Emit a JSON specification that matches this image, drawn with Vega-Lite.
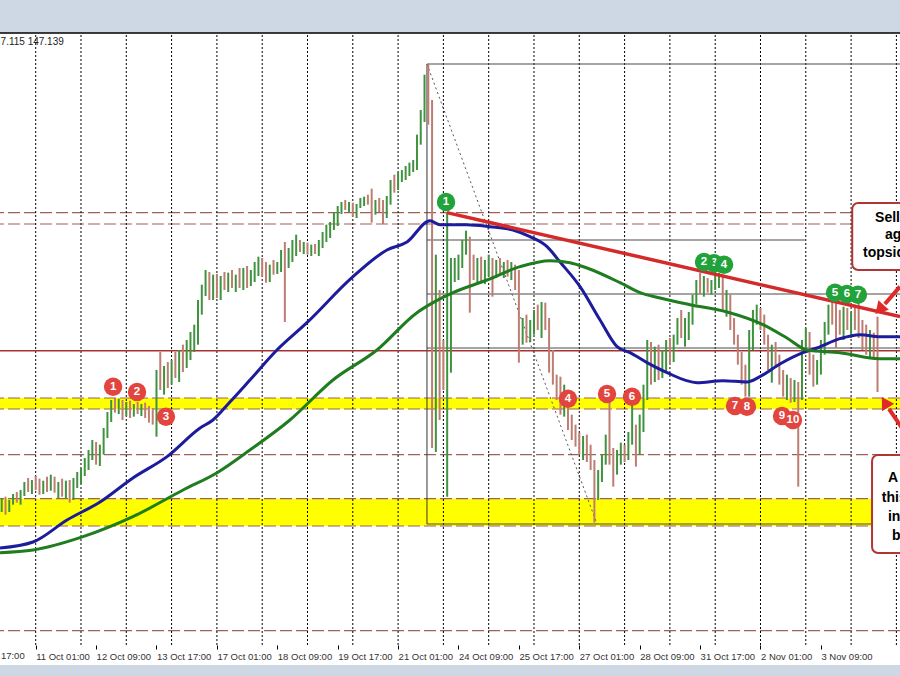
{
  "$schema": "https://vega.github.io/schema/vega-lite/v6.json",
  "width": 900,
  "height": 632,
  "autosize": {"type": "none"},
  "padding": {"left": 0, "right": 0, "top": 33, "bottom": 11},
  "background": "#cdd8e4",
  "config": {"view": {"fill": "white", "stroke": null}, "font": "Liberation Sans"},
  "datasets": {
    "candles": [
      {"k":-18,"o":145.33,"h":145.43,"l":145.22,"c":145.40},{"k":-16,"o":145.40,"h":145.45,"l":145.18,"c":145.30},{"k":-14,"o":145.30,"h":145.40,"l":145.22,"c":145.37},{"k":-12,"o":145.37,"h":145.49,"l":145.33,"c":145.45},{"k":-10,"o":145.45,"h":145.52,"l":145.36,"c":145.40},{"k":-8,"o":145.40,"h":145.55,"l":145.33,"c":145.51},{"k":-6,"o":145.51,"h":145.67,"l":145.46,"c":145.63},{"k":-4,"o":145.63,"h":145.73,"l":145.52,"c":145.58},{"k":-2,"o":145.58,"h":145.70,"l":145.49,"c":145.67},
      {"k":0,"o":145.67,"h":145.76,"l":145.55,"c":145.61},{"k":2,"o":145.61,"h":145.72,"l":145.48,"c":145.55},{"k":4,"o":145.55,"h":145.69,"l":145.49,"c":145.64},{"k":6,"o":145.64,"h":145.75,"l":145.52,"c":145.58},{"k":8,"o":145.58,"h":145.78,"l":145.54,"c":145.70},{"k":10,"o":145.70,"h":145.75,"l":145.51,"c":145.55},{"k":12,"o":145.55,"h":145.67,"l":145.43,"c":145.61},{"k":14,"o":145.61,"h":145.72,"l":145.45,"c":145.51},{"k":16,"o":145.51,"h":145.69,"l":145.42,"c":145.64},{"k":18,"o":145.64,"h":145.70,"l":145.36,"c":145.48},
      {"k":20,"o":145.48,"h":145.73,"l":145.40,"c":145.67},{"k":22,"o":145.67,"h":145.82,"l":145.58,"c":145.76},{"k":24,"o":145.76,"h":145.88,"l":145.64,"c":145.85},{"k":26,"o":145.85,"h":146.03,"l":145.76,"c":145.97},{"k":28,"o":145.97,"h":146.15,"l":145.85,"c":146.08},{"k":30,"o":146.08,"h":146.30,"l":146.00,"c":146.21},{"k":32,"o":146.21,"h":146.27,"l":145.93,"c":146.00},{"k":34,"o":146.00,"h":146.23,"l":145.91,"c":146.15},{"k":36,"o":146.15,"h":146.48,"l":146.08,"c":146.42},{"k":38,"o":146.42,"h":146.72,"l":146.33,"c":146.68},
      {"k":40,"o":146.68,"h":146.90,"l":146.57,"c":146.83},{"k":42,"o":146.83,"h":146.93,"l":146.71,"c":146.78},{"k":44,"o":146.78,"h":146.92,"l":146.69,"c":146.84},{"k":46,"o":146.84,"h":146.90,"l":146.60,"c":146.75},{"k":48,"o":146.75,"h":146.87,"l":146.66,"c":146.81},{"k":50,"o":146.81,"h":146.89,"l":146.63,"c":146.72},{"k":52,"o":146.72,"h":146.84,"l":146.65,"c":146.78},{"k":54,"o":146.78,"h":146.87,"l":146.69,"c":146.75},{"k":56,"o":146.75,"h":146.84,"l":146.66,"c":146.80},{"k":58,"o":146.80,"h":146.86,"l":146.63,"c":146.69},
      {"k":60,"o":146.69,"h":146.81,"l":146.56,"c":146.63},{"k":62,"o":146.63,"h":146.78,"l":146.53,"c":146.60},{"k":64,"o":146.60,"h":147.35,"l":146.35,"c":147.23},{"k":66,"o":147.23,"h":147.62,"l":147.05,"c":147.20},{"k":68,"o":147.20,"h":147.41,"l":146.98,"c":147.32},{"k":70,"o":147.32,"h":147.47,"l":147.08,"c":147.23},{"k":72,"o":147.23,"h":147.50,"l":147.13,"c":147.43},{"k":74,"o":147.43,"h":147.62,"l":147.23,"c":147.35},{"k":76,"o":147.35,"h":147.65,"l":147.17,"c":147.53},{"k":78,"o":147.53,"h":147.73,"l":147.32,"c":147.47},
      {"k":80,"o":147.47,"h":147.80,"l":147.38,"c":147.68},{"k":82,"o":147.68,"h":147.92,"l":147.50,"c":147.80},{"k":84,"o":147.80,"h":148.03,"l":147.62,"c":147.88},{"k":86,"o":147.88,"h":148.40,"l":147.73,"c":148.33},{"k":88,"o":148.33,"h":148.63,"l":148.18,"c":148.55},{"k":90,"o":148.55,"h":148.85,"l":148.46,"c":148.76},{"k":92,"o":148.76,"h":148.82,"l":148.40,"c":148.52},{"k":94,"o":148.52,"h":148.78,"l":148.40,"c":148.67},{"k":96,"o":148.67,"h":148.79,"l":148.43,"c":148.55},{"k":98,"o":148.55,"h":148.76,"l":148.40,"c":148.70},
      {"k":100,"o":148.70,"h":148.82,"l":148.55,"c":148.64},{"k":102,"o":148.64,"h":148.81,"l":148.52,"c":148.73},{"k":104,"o":148.73,"h":148.85,"l":148.58,"c":148.61},{"k":106,"o":148.61,"h":148.78,"l":148.52,"c":148.70},{"k":108,"o":148.70,"h":148.88,"l":148.58,"c":148.64},{"k":110,"o":148.64,"h":148.88,"l":148.55,"c":148.79},{"k":112,"o":148.79,"h":148.91,"l":148.58,"c":148.70},{"k":114,"o":148.70,"h":148.85,"l":148.61,"c":148.76},{"k":116,"o":148.76,"h":148.97,"l":148.67,"c":148.91},{"k":118,"o":148.91,"h":149.05,"l":148.76,"c":148.97},
      {"k":120,"o":148.97,"h":149.03,"l":148.75,"c":148.85},{"k":122,"o":148.85,"h":148.97,"l":148.66,"c":148.76},{"k":124,"o":148.76,"h":148.93,"l":148.67,"c":148.88},{"k":126,"o":148.88,"h":149.00,"l":148.78,"c":148.85},{"k":128,"o":148.85,"h":148.97,"l":148.79,"c":148.93},{"k":130,"o":148.93,"h":149.15,"l":148.82,"c":149.08},{"k":132,"o":149.08,"h":149.27,"l":148.07,"c":148.97},{"k":134,"o":148.97,"h":149.18,"l":148.88,"c":149.08},{"k":136,"o":149.08,"h":149.30,"l":148.97,"c":149.15},{"k":138,"o":149.15,"h":149.38,"l":149.06,"c":149.21},
      {"k":140,"o":149.21,"h":149.30,"l":149.12,"c":149.15},{"k":142,"o":149.15,"h":149.27,"l":149.09,"c":149.21},{"k":144,"o":149.21,"h":149.26,"l":149.08,"c":149.12},{"k":146,"o":149.12,"h":149.23,"l":149.06,"c":149.18},{"k":148,"o":149.18,"h":149.24,"l":149.09,"c":149.12},{"k":150,"o":149.12,"h":149.30,"l":149.06,"c":149.27},{"k":152,"o":149.27,"h":149.42,"l":149.18,"c":149.36},{"k":154,"o":149.36,"h":149.53,"l":149.27,"c":149.45},{"k":156,"o":149.45,"h":149.57,"l":149.33,"c":149.51},{"k":158,"o":149.51,"h":149.72,"l":149.45,"c":149.66},
      {"k":160,"o":149.66,"h":149.81,"l":149.51,"c":149.75},{"k":162,"o":149.75,"h":149.87,"l":149.69,"c":149.83},{"k":164,"o":149.83,"h":149.90,"l":149.75,"c":149.78},{"k":166,"o":149.78,"h":149.87,"l":149.72,"c":149.81},{"k":168,"o":149.81,"h":149.86,"l":149.65,"c":149.69},{"k":170,"o":149.69,"h":149.84,"l":149.63,"c":149.81},{"k":172,"o":149.81,"h":149.93,"l":149.78,"c":149.87},{"k":174,"o":149.87,"h":149.95,"l":149.81,"c":149.90},{"k":176,"o":149.90,"h":149.98,"l":149.83,"c":149.86},{"k":178,"o":149.86,"h":150.07,"l":149.56,"c":149.78},
      {"k":180,"o":149.78,"h":149.90,"l":149.68,"c":149.84},{"k":182,"o":149.84,"h":149.93,"l":149.72,"c":149.75},{"k":184,"o":149.75,"h":149.90,"l":149.54,"c":149.72},{"k":186,"o":149.72,"h":149.96,"l":149.63,"c":149.90},{"k":188,"o":149.90,"h":150.20,"l":149.83,"c":150.14},{"k":190,"o":150.14,"h":150.28,"l":150.01,"c":150.13},{"k":192,"o":150.13,"h":150.32,"l":150.05,"c":150.23},{"k":194,"o":150.23,"h":150.35,"l":150.17,"c":150.29},{"k":196,"o":150.29,"h":150.41,"l":150.20,"c":150.35},{"k":198,"o":150.35,"h":150.46,"l":150.26,"c":150.41},
      {"k":200,"o":150.41,"h":150.50,"l":150.32,"c":150.43},{"k":202,"o":150.43,"h":150.88,"l":150.35,"c":150.80},{"k":204,"o":150.80,"h":151.25,"l":150.73,"c":151.18},{"k":206,"o":151.18,"h":151.78,"l":151.07,"c":151.70},{"k":208,"o":151.70,"h":151.94,"l":151.03,"c":151.10},{"k":210,"o":151.10,"h":151.40,"l":146.18,"c":147.95},{"k":212,"o":147.95,"h":149.08,"l":146.12,"c":148.40},{"k":214,"o":148.40,"h":148.55,"l":146.60,"c":147.65},{"k":216,"o":147.65,"h":147.80,"l":147.05,"c":147.58},{"k":218,"o":147.58,"h":149.71,"l":145.45,"c":148.40},
      {"k":220,"o":148.40,"h":149.03,"l":147.31,"c":148.78},{"k":222,"o":148.78,"h":149.03,"l":148.67,"c":148.88},{"k":224,"o":148.88,"h":149.08,"l":148.70,"c":148.97},{"k":226,"o":148.97,"h":149.30,"l":148.88,"c":149.23},{"k":228,"o":149.23,"h":149.44,"l":149.08,"c":149.30},{"k":230,"o":149.30,"h":149.35,"l":148.21,"c":148.97},{"k":232,"o":148.97,"h":149.08,"l":148.70,"c":148.82},{"k":234,"o":148.82,"h":149.03,"l":148.66,"c":148.93},{"k":236,"o":148.93,"h":149.05,"l":148.67,"c":148.76},{"k":238,"o":148.76,"h":149.00,"l":148.64,"c":148.88},
      {"k":240,"o":148.88,"h":149.08,"l":148.75,"c":148.97},{"k":242,"o":148.97,"h":149.03,"l":148.45,"c":148.85},{"k":244,"o":148.85,"h":149.00,"l":148.73,"c":148.93},{"k":246,"o":148.93,"h":149.03,"l":148.76,"c":148.85},{"k":248,"o":148.85,"h":148.97,"l":148.73,"c":148.91},{"k":250,"o":148.91,"h":149.00,"l":148.75,"c":148.82},{"k":252,"o":148.82,"h":148.97,"l":148.70,"c":148.88},{"k":254,"o":148.88,"h":148.93,"l":148.55,"c":148.63},{"k":256,"o":148.63,"h":148.85,"l":147.46,"c":147.95},{"k":258,"o":147.95,"h":148.13,"l":147.73,"c":148.03},
      {"k":260,"o":148.03,"h":148.18,"l":147.76,"c":147.88},{"k":262,"o":147.88,"h":148.10,"l":147.77,"c":148.07},{"k":264,"o":148.07,"h":148.25,"l":147.88,"c":148.18},{"k":266,"o":148.18,"h":148.33,"l":147.95,"c":148.10},{"k":268,"o":148.10,"h":148.37,"l":147.83,"c":148.25},{"k":270,"o":148.25,"h":148.36,"l":147.95,"c":148.03},{"k":272,"o":148.03,"h":148.13,"l":147.31,"c":147.43},{"k":274,"o":147.43,"h":147.65,"l":147.13,"c":147.23},{"k":276,"o":147.23,"h":147.28,"l":146.90,"c":147.02},{"k":278,"o":147.02,"h":147.25,"l":146.68,"c":146.83},
      {"k":280,"o":146.83,"h":147.13,"l":146.65,"c":146.98},{"k":282,"o":146.98,"h":147.02,"l":146.45,"c":146.53},{"k":284,"o":146.53,"h":146.68,"l":146.30,"c":146.38},{"k":286,"o":146.38,"h":146.53,"l":146.20,"c":146.30},{"k":288,"o":146.30,"h":146.41,"l":146.08,"c":146.18},{"k":290,"o":146.18,"h":146.36,"l":146.00,"c":146.27},{"k":292,"o":146.27,"h":146.38,"l":145.97,"c":146.08},{"k":294,"o":146.08,"h":146.23,"l":145.85,"c":145.93},{"k":296,"o":145.93,"h":146.00,"l":145.06,"c":145.48},{"k":298,"o":145.48,"h":145.85,"l":145.40,"c":145.78},
      {"k":300,"o":145.78,"h":146.08,"l":145.67,"c":146.00},{"k":302,"o":146.00,"h":146.38,"l":145.93,"c":146.30},{"k":304,"o":146.30,"h":146.93,"l":145.93,"c":146.08},{"k":306,"o":146.08,"h":146.18,"l":145.60,"c":145.85},{"k":308,"o":145.85,"h":146.15,"l":145.78,"c":146.08},{"k":310,"o":146.08,"h":146.26,"l":145.93,"c":146.15},{"k":312,"o":146.15,"h":146.23,"l":145.97,"c":146.08},{"k":314,"o":146.08,"h":146.42,"l":146.00,"c":146.33},{"k":316,"o":146.33,"h":146.83,"l":146.23,"c":146.45},{"k":318,"o":146.45,"h":146.53,"l":145.90,"c":146.15},
      {"k":320,"o":146.15,"h":146.68,"l":146.08,"c":146.60},{"k":322,"o":146.60,"h":147.13,"l":146.42,"c":147.02},{"k":324,"o":147.02,"h":147.80,"l":146.90,"c":147.65},{"k":326,"o":147.65,"h":147.77,"l":147.13,"c":147.28},{"k":328,"o":147.28,"h":147.70,"l":147.17,"c":147.62},{"k":330,"o":147.62,"h":147.73,"l":147.20,"c":147.32},{"k":332,"o":147.32,"h":147.65,"l":147.23,"c":147.53},{"k":334,"o":147.53,"h":147.80,"l":147.32,"c":147.73},{"k":336,"o":147.73,"h":147.83,"l":147.43,"c":147.50},{"k":338,"o":147.50,"h":147.88,"l":147.47,"c":147.80},
      {"k":340,"o":147.80,"h":148.13,"l":147.73,"c":148.07},{"k":342,"o":148.07,"h":148.25,"l":147.83,"c":147.95},{"k":344,"o":147.95,"h":148.13,"l":147.70,"c":148.03},{"k":346,"o":148.03,"h":148.22,"l":147.80,"c":148.13},{"k":348,"o":148.13,"h":148.48,"l":148.03,"c":148.40},{"k":350,"o":148.40,"h":148.70,"l":148.33,"c":148.63},{"k":352,"o":148.63,"h":148.81,"l":148.48,"c":148.55},{"k":354,"o":148.55,"h":148.76,"l":148.45,"c":148.67},{"k":356,"o":148.67,"h":148.73,"l":148.51,"c":148.55},{"k":358,"o":148.55,"h":148.70,"l":148.48,"c":148.64},
      {"k":360,"o":148.64,"h":148.79,"l":148.55,"c":148.70},{"k":362,"o":148.70,"h":148.81,"l":148.58,"c":148.73},{"k":364,"o":148.73,"h":148.78,"l":148.25,"c":148.33},{"k":366,"o":148.33,"h":148.55,"l":148.15,"c":148.43},{"k":368,"o":148.43,"h":148.48,"l":147.95,"c":148.03},{"k":370,"o":148.03,"h":148.13,"l":147.73,"c":147.80},{"k":372,"o":147.80,"h":147.88,"l":147.43,"c":147.53},{"k":374,"o":147.53,"h":147.62,"l":147.13,"c":147.23},{"k":376,"o":147.23,"h":147.43,"l":146.95,"c":147.13},{"k":378,"o":147.13,"h":147.95,"l":146.95,"c":147.80},
      {"k":380,"o":147.80,"h":148.25,"l":147.65,"c":148.13},{"k":382,"o":148.13,"h":148.33,"l":148.03,"c":148.22},{"k":384,"o":148.22,"h":148.28,"l":147.95,"c":148.03},{"k":386,"o":148.03,"h":148.18,"l":147.73,"c":147.80},{"k":388,"o":147.80,"h":147.88,"l":147.35,"c":147.47},{"k":390,"o":147.47,"h":147.73,"l":147.16,"c":147.65},{"k":392,"o":147.65,"h":147.77,"l":147.38,"c":147.47},{"k":394,"o":147.47,"h":147.58,"l":147.13,"c":147.23},{"k":396,"o":147.23,"h":147.35,"l":146.95,"c":147.05},{"k":398,"o":147.05,"h":147.28,"l":146.90,"c":147.13},
      {"k":400,"o":147.13,"h":147.23,"l":146.86,"c":146.98},{"k":402,"o":146.98,"h":147.20,"l":146.87,"c":147.08},{"k":404,"o":147.08,"h":147.17,"l":145.60,"c":146.93},{"k":406,"o":146.93,"h":147.80,"l":146.90,"c":147.73},{"k":408,"o":147.73,"h":147.98,"l":147.62,"c":147.88},{"k":410,"o":147.88,"h":147.92,"l":147.28,"c":147.43},{"k":412,"o":147.43,"h":147.58,"l":147.10,"c":147.23},{"k":414,"o":147.23,"h":147.50,"l":147.13,"c":147.35},{"k":416,"o":147.35,"h":147.80,"l":147.28,"c":147.73},{"k":418,"o":147.73,"h":148.07,"l":147.58,"c":147.98},
      {"k":420,"o":147.98,"h":148.33,"l":147.88,"c":148.25},{"k":422,"o":148.25,"h":148.40,"l":148.03,"c":148.18},{"k":424,"o":148.18,"h":148.37,"l":147.68,"c":148.10},{"k":426,"o":148.10,"h":148.25,"l":147.88,"c":147.98},{"k":428,"o":147.98,"h":148.30,"l":147.80,"c":148.18},{"k":430,"o":148.18,"h":148.28,"l":147.95,"c":148.07},{"k":432,"o":148.07,"h":148.22,"l":147.83,"c":148.13},{"k":434,"o":148.13,"h":148.33,"l":147.95,"c":148.03},{"k":436,"o":148.03,"h":148.36,"l":147.83,"c":147.92},{"k":438,"o":147.92,"h":148.10,"l":147.65,"c":147.80},
      {"k":440,"o":147.80,"h":148.03,"l":147.58,"c":147.73},{"k":442,"o":147.73,"h":147.95,"l":147.53,"c":147.83},{"k":444,"o":147.83,"h":147.91,"l":147.50,"c":147.65},{"k":446,"o":147.65,"h":148.15,"l":147.02,"c":147.14}
    ],
    "ma": [
      {"m":"MA100","k":-18.9,"p":144.68},{"m":"MA100","k":-1.4,"p":144.77},{"m":"MA100","k":16.6,"p":145.10},{"m":"MA100","k":34.1,"p":145.37},{"m":"MA100","k":51.5,"p":145.73},{"m":"MA100","k":69.6,"p":146.05},{"m":"MA100","k":87.1,"p":146.48},{"m":"MA100","k":93.9,"p":146.60},{"m":"MA100","k":102.9,"p":146.87},{"m":"MA100","k":113.5,"p":147.20},{"m":"MA100","k":127.8,"p":147.65},{"m":"MA100","k":143.7,"p":148.06},{"m":"MA100","k":168.1,"p":148.75},{"m":"MA100","k":186.1,"p":149.15},{"m":"MA100","k":196.7,"p":149.27},{"m":"MA100","k":208.9,"p":149.59},{"m":"MA100","k":214.2,"p":149.53},{"m":"MA100","k":228.5,"p":149.53},{"m":"MA100","k":240.7,"p":149.50},{"m":"MA100","k":252.9,"p":149.45},{"m":"MA100","k":261.9,"p":149.35},{"m":"MA100","k":270.9,"p":149.20},{"m":"MA100","k":277.8,"p":148.97},{"m":"MA100","k":288.4,"p":148.60},{"m":"MA100","k":299,"p":148.10},{"m":"MA100","k":308,"p":147.70},{"m":"MA100","k":314.9,"p":147.61},{"m":"MA100","k":323.9,"p":147.46},{"m":"MA100","k":334.5,"p":147.31},{"m":"MA100","k":350.4,"p":147.16},{"m":"MA100","k":364.1,"p":147.19},{"m":"MA100","k":376.9,"p":147.17},{"m":"MA100","k":383.7,"p":147.25},{"m":"MA100","k":394.3,"p":147.44},{"m":"MA100","k":406.5,"p":147.61},{"m":"MA100","k":413.9,"p":147.68},{"m":"MA100","k":426.1,"p":147.82},{"m":"MA100","k":436.7,"p":147.88},{"m":"MA100","k":447.3,"p":147.85},{"m":"MA100","k":457.9,"p":147.85},
      {"m":"MA200","k":-18.9,"p":144.61},{"m":"MA200","k":-1.4,"p":144.65},{"m":"MA200","k":25.1,"p":144.85},{"m":"MA200","k":51.5,"p":145.15},{"m":"MA200","k":78.1,"p":145.55},{"m":"MA200","k":96.1,"p":145.81},{"m":"MA200","k":113.5,"p":146.15},{"m":"MA200","k":134.7,"p":146.60},{"m":"MA200","k":157.5,"p":147.20},{"m":"MA200","k":180.8,"p":147.65},{"m":"MA200","k":202,"p":148.21},{"m":"MA200","k":210.5,"p":148.36},{"m":"MA200","k":221.1,"p":148.51},{"m":"MA200","k":239.1,"p":148.70},{"m":"MA200","k":256.6,"p":148.90},{"m":"MA200","k":272.5,"p":148.99},{"m":"MA200","k":283.1,"p":148.96},{"m":"MA200","k":292.1,"p":148.88},{"m":"MA200","k":309.6,"p":148.66},{"m":"MA200","k":320.2,"p":148.51},{"m":"MA200","k":330.8,"p":148.43},{"m":"MA200","k":346.6,"p":148.33},{"m":"MA200","k":366.3,"p":148.22},{"m":"MA200","k":385.3,"p":148.03},{"m":"MA200","k":398,"p":147.83},{"m":"MA200","k":408.6,"p":147.65},{"m":"MA200","k":426.1,"p":147.61},{"m":"MA200","k":447.3,"p":147.52},{"m":"MA200","k":457.9,"p":147.52}
    ],
    "grid": [{"k":0},{"k":24},{"k":48},{"k":72},{"k":96},{"k":120},{"k":144},{"k":168},{"k":192},{"k":216},{"k":240},{"k":264},{"k":288},{"k":312},{"k":336},{"k":360},{"k":384},{"k":408},{"k":432},{"k":456}],
    "dashed": [{"p":149.71},{"p":149.54},{"p":146.93},{"p":146.765},{"p":146.08},{"p":145.42},{"p":145.01},{"p":143.44}],
    "bands": [{"p":145.01,"p2":145.42},{"p":146.765,"p2":146.93}],
    "fib": [{"k":207.3,"p":151.94,"k2":457.91},{"k":207.3,"p":149.30,"k2":407.5},{"k":207.3,"p":148.49,"k2":457.91},{"k":207.3,"p":147.68,"k2":457.91},{"k":207.3,"p":145.04,"k2":457.91}],
    "circles": [
      {"side":"support","n":"1","k":41.0,"p":147.10},{"side":"support","n":"2","k":53.7,"p":147.02},{"side":"support","n":"3","k":69.0,"p":146.65},{"side":"support","n":"4","k":282.0,"p":146.92},{"side":"support","n":"5","k":302.7,"p":146.99},{"side":"support","n":"6","k":315.9,"p":146.95},{"side":"support","n":"7","k":370.5,"p":146.81},{"side":"support","n":"8","k":376.8,"p":146.80},{"side":"support","n":"9","k":395.4,"p":146.66},{"side":"support","n":"10","k":401.2,"p":146.60},
      {"side":"resistance","n":"1","k":217.4,"p":149.87},{"side":"resistance","n":"3","k":359.4,"p":148.95},{"side":"resistance","n":"2","k":354.1,"p":148.97},{"side":"resistance","n":"4","k":364.7,"p":148.93},{"side":"resistance","n":"5","k":423.5,"p":148.51},{"side":"resistance","n":"6","k":429.8,"p":148.49},{"side":"resistance","n":"7","k":435.6,"p":148.48}
    ],
    "boxes": [{"k":432.6,"k2":500,"p":148.85,"p2":149.855},{"k":443.1,"k2":500,"p":144.605,"p2":146.075}],
    "notes": [
      {"t":"Sellers leaned","k":444.7,"p":149.63},{"t":"against the","k":450.0,"p":149.38},{"t":"topside trend line","k":438.3,"p":149.11},
      {"t":"A move below","k":451.5,"p":145.73},{"t":"this area would","k":448.3,"p":145.43},{"t":"increase the","k":451.5,"p":145.15},{"t":"bearish bias","k":453.7,"p":144.86}
    ],
    "arrows": [{"k":457.9,"p":148.6,"k2":449.9,"p2":148.34},{"k":460.5,"p":146.42,"k2":452.1,"p2":146.765}]
  },
  "layer": [
    {
      "data": {"name": "bands"},
      "mark": {"type": "rect", "color": "#ffff00"},
      "encoding": {
        "y": {"field": "p", "type": "quantitative", "scale": {"domain": [142.925, 152.405], "nice": false, "zero": false}, "axis": null},
        "y2": {"field": "p2"}
      }
    },
    {
      "data": {"name": "dashed"},
      "mark": {"type": "rule", "color": "#a0605a", "strokeWidth": 1.2, "strokeDash": [12, 4]},
      "encoding": {
        "y": {"field": "p", "type": "quantitative", "scale": {"domain": [142.925, 152.405], "nice": false, "zero": false}, "axis": null}
      }
    },
    {
      "data": {"name": "grid"},
      "mark": {"type": "rule", "color": "#000000", "strokeWidth": 1, "strokeDash": [2, 2]},
      "encoding": {
        "x": {"field": "k", "type": "quantitative", "scale": {"domain": [-18.91, 457.91], "nice": false, "zero": false}},
        "y": {"datum": 143.225, "type": "quantitative", "scale": {"domain": [142.925, 152.405], "nice": false, "zero": false}, "axis": null},
        "y2": {"datum": 152.405}
      }
    },
    {
      "data": {"name": "fib"},
      "mark": {"type": "rule", "color": "#4a4a4a", "strokeWidth": 1},
      "encoding": {
        "x": {"field": "k", "type": "quantitative", "scale": {"domain": [-18.91, 457.91], "nice": false, "zero": false}},
        "x2": {"field": "k2"},
        "y": {"field": "p", "type": "quantitative", "scale": {"domain": [142.925, 152.405], "nice": false, "zero": false}, "axis": null}
      }
    },
    {
      "data": {"values": [{"k": 207.3, "p": 151.94, "p2": 145.04}]},
      "mark": {"type": "rule", "color": "#333333", "strokeWidth": 1},
      "encoding": {
        "x": {"field": "k", "type": "quantitative", "scale": {"domain": [-18.91, 457.91], "nice": false, "zero": false}},
        "y": {"field": "p", "type": "quantitative", "scale": {"domain": [142.925, 152.405], "nice": false, "zero": false}, "axis": null},
        "y2": {"field": "p2"}
      }
    },
    {
      "data": {"values": [{"k": 207.3, "p": 151.94, "k2": 297.4, "p2": 145.04}]},
      "mark": {"type": "rule", "color": "#555555", "strokeWidth": 1, "strokeDash": [2, 3]},
      "encoding": {
        "x": {"field": "k", "type": "quantitative", "scale": {"domain": [-18.91, 457.91], "nice": false, "zero": false}},
        "x2": {"field": "k2"},
        "y": {"field": "p", "type": "quantitative", "scale": {"domain": [142.925, 152.405], "nice": false, "zero": false}, "axis": null},
        "y2": {"field": "p2"}
      }
    },
    {
      "data": {"values": [{"p": 147.64}]},
      "mark": {"type": "rule", "color": "#a83232", "strokeWidth": 1.5},
      "encoding": {
        "y": {"field": "p", "type": "quantitative", "scale": {"domain": [142.925, 152.405], "nice": false, "zero": false}, "axis": null}
      }
    },
    {
      "data": {"values": [{"p": 152.405}]},
      "mark": {"type": "rule", "color": "#000000", "strokeWidth": 1.5},
      "encoding": {
        "y": {"field": "p", "type": "quantitative", "scale": {"domain": [142.925, 152.405], "nice": false, "zero": false}, "axis": null}
      }
    },
    {
      "data": {"name": "candles"},
      "mark": {"type": "rule", "strokeWidth": 2},
      "encoding": {
        "x": {
          "field": "k", "type": "quantitative",
          "scale": {"domain": [-18.91, 457.91], "nice": false, "zero": false},
          "axis": {
            "orient": "bottom", "offset": -20, "title": null, "grid": false, "domain": false,
            "values": [-32, 0, 32, 64, 96, 128, 160, 192, 224, 256, 288, 320, 352, 384, 416],
            "labelExpr": "['10 Oct 17:00','11 Oct 01:00','12 Oct 09:00','13 Oct 17:00','17 Oct 01:00','18 Oct 09:00','19 Oct 17:00','21 Oct 01:00','24 Oct 09:00','25 Oct 17:00','27 Oct 01:00','28 Oct 09:00','31 Oct 17:00','2 Nov 01:00','3 Nov 09:00'][round((datum.value + 32) / 32)]",
            "ticks": true, "tickSize": 4, "tickColor": "#000000", "tickWidth": 1,
            "labelAlign": "left", "labelBaseline": "top", "labelPadding": 2,
            "labelFont": "Liberation Sans", "labelFontSize": 9.5, "labelColor": "#333333",
            "labelOverlap": false, "labelBound": false, "labelFlush": false
          }
        },
        "y": {"field": "l", "type": "quantitative", "scale": {"domain": [142.925, 152.405], "nice": false, "zero": false}, "axis": null},
        "y2": {"field": "h"},
        "color": {"condition": {"test": "datum.c >= datum.o", "value": "#3f933f"}, "value": "#bd7d72"}
      }
    },
    {
      "data": {"values": [{"t": "10 Oct 17:00", "k": -32, "p": 143.135}]},
      "mark": {"type": "text", "color": "#333333", "fontSize": 9.5, "font": "Liberation Sans", "align": "left", "baseline": "top", "dx": -5},
      "encoding": {
        "x": {"field": "k", "type": "quantitative", "scale": {"domain": [-18.91, 457.91], "nice": false, "zero": false}},
        "y": {"field": "p", "type": "quantitative", "scale": {"domain": [142.925, 152.405], "nice": false, "zero": false}, "axis": null},
        "text": {"field": "t"}
      }
    },
    {
      "data": {"name": "ma"},
      "mark": {"type": "line", "strokeWidth": 3, "interpolate": "monotone"},
      "encoding": {
        "x": {"field": "k", "type": "quantitative", "scale": {"domain": [-18.91, 457.91], "nice": false, "zero": false}},
        "y": {"field": "p", "type": "quantitative", "scale": {"domain": [142.925, 152.405], "nice": false, "zero": false}, "axis": null},
        "detail": {"field": "m", "type": "nominal"},
        "color": {"condition": {"test": "datum.m === 'MA100'", "value": "#1c1c9c"}, "value": "#1f7d1f"}
      }
    },
    {
      "data": {"values": [{"k": 217.9, "p": 149.71, "k2": 457.91, "p2": 148.15}]},
      "mark": {"type": "rule", "color": "#d42a2a", "strokeWidth": 3.5},
      "encoding": {
        "x": {"field": "k", "type": "quantitative", "scale": {"domain": [-18.91, 457.91], "nice": false, "zero": false}},
        "x2": {"field": "k2"},
        "y": {"field": "p", "type": "quantitative", "scale": {"domain": [142.925, 152.405], "nice": false, "zero": false}, "axis": null},
        "y2": {"field": "p2"}
      }
    },
    {
      "data": {"name": "circles"},
      "transform": [{"filter": "datum.side === 'resistance' && datum.n === '3'"}],
      "mark": {"type": "point", "shape": "circle", "filled": true, "opacity": 1, "size": 340, "color": "#21a23a"},
      "encoding": {
        "x": {"field": "k", "type": "quantitative", "scale": {"domain": [-18.91, 457.91], "nice": false, "zero": false}},
        "y": {"field": "p", "type": "quantitative", "scale": {"domain": [142.925, 152.405], "nice": false, "zero": false}, "axis": null}
      }
    },
    {
      "data": {"name": "circles"},
      "transform": [{"filter": "datum.side === 'resistance' && datum.n === '3'"}],
      "mark": {"type": "text", "color": "white", "fontWeight": "bold", "fontSize": 11.5, "font": "Liberation Sans", "align": "center", "baseline": "middle"},
      "encoding": {
        "x": {"field": "k", "type": "quantitative", "scale": {"domain": [-18.91, 457.91], "nice": false, "zero": false}},
        "y": {"field": "p", "type": "quantitative", "scale": {"domain": [142.925, 152.405], "nice": false, "zero": false}, "axis": null},
        "text": {"field": "n"}
      }
    },
    {
      "data": {"name": "circles"},
      "transform": [{"filter": "!(datum.side === 'resistance' && datum.n === '3')"}],
      "mark": {"type": "point", "shape": "circle", "filled": true, "opacity": 1, "size": 340},
      "encoding": {
        "x": {"field": "k", "type": "quantitative", "scale": {"domain": [-18.91, 457.91], "nice": false, "zero": false}},
        "y": {"field": "p", "type": "quantitative", "scale": {"domain": [142.925, 152.405], "nice": false, "zero": false}, "axis": null},
        "color": {"condition": {"test": "datum.side === 'support'", "value": "#e2453f"}, "value": "#21a23a"}
      }
    },
    {
      "data": {"name": "circles"},
      "transform": [{"filter": "!(datum.side === 'resistance' && datum.n === '3')"}],
      "mark": {"type": "text", "color": "white", "fontWeight": "bold", "fontSize": 11.5, "font": "Liberation Sans", "align": "center", "baseline": "middle"},
      "encoding": {
        "x": {"field": "k", "type": "quantitative", "scale": {"domain": [-18.91, 457.91], "nice": false, "zero": false}},
        "y": {"field": "p", "type": "quantitative", "scale": {"domain": [142.925, 152.405], "nice": false, "zero": false}, "axis": null},
        "text": {"field": "n"}
      }
    },
    {
      "data": {"name": "boxes"},
      "mark": {"type": "rect", "fill": "white", "stroke": "#b03535", "strokeWidth": 2, "cornerRadius": 6, "clip": true},
      "encoding": {
        "x": {"field": "k", "type": "quantitative", "scale": {"domain": [-18.91, 457.91], "nice": false, "zero": false}},
        "x2": {"field": "k2"},
        "y": {"field": "p", "type": "quantitative", "scale": {"domain": [142.925, 152.405], "nice": false, "zero": false}, "axis": null},
        "y2": {"field": "p2"}
      }
    },
    {
      "data": {"name": "notes"},
      "mark": {"type": "text", "color": "#000000", "fontWeight": "bold", "fontSize": 14, "font": "Liberation Sans", "align": "left", "baseline": "middle", "clip": true},
      "encoding": {
        "x": {"field": "k", "type": "quantitative", "scale": {"domain": [-18.91, 457.91], "nice": false, "zero": false}},
        "y": {"field": "p", "type": "quantitative", "scale": {"domain": [142.925, 152.405], "nice": false, "zero": false}, "axis": null},
        "text": {"field": "t"}
      }
    },
    {
      "data": {"name": "arrows"},
      "mark": {"type": "rule", "color": "#e02a2a", "strokeWidth": 4, "clip": true},
      "encoding": {
        "x": {"field": "k", "type": "quantitative", "scale": {"domain": [-18.91, 457.91], "nice": false, "zero": false}},
        "x2": {"field": "k2"},
        "y": {"field": "p", "type": "quantitative", "scale": {"domain": [142.925, 152.405], "nice": false, "zero": false}, "axis": null},
        "y2": {"field": "p2"}
      }
    },
    {
      "data": {"values": [{"k": 447.8, "p": 148.28}]},
      "mark": {"type": "point", "shape": "triangle", "filled": true, "opacity": 1, "color": "#e02a2a", "size": 200, "angle": 222},
      "encoding": {
        "x": {"field": "k", "type": "quantitative", "scale": {"domain": [-18.91, 457.91], "nice": false, "zero": false}},
        "y": {"field": "p", "type": "quantitative", "scale": {"domain": [142.925, 152.405], "nice": false, "zero": false}, "axis": null}
      }
    },
    {
      "data": {"values": [{"k": 450.5, "p": 146.84}]},
      "mark": {"type": "point", "shape": "triangle", "filled": true, "opacity": 1, "color": "#e02a2a", "size": 200, "angle": 329},
      "encoding": {
        "x": {"field": "k", "type": "quantitative", "scale": {"domain": [-18.91, 457.91], "nice": false, "zero": false}},
        "y": {"field": "p", "type": "quantitative", "scale": {"domain": [142.925, 152.405], "nice": false, "zero": false}, "axis": null}
      }
    },
    {
      "data": {"values": [{"t": "7.115 147.139", "k": -18.6, "p": 152.27}]},
      "mark": {"type": "text", "color": "#222222", "fontSize": 10, "font": "Liberation Sans", "align": "left", "baseline": "middle"},
      "encoding": {
        "x": {"field": "k", "type": "quantitative", "scale": {"domain": [-18.91, 457.91], "nice": false, "zero": false}},
        "y": {"field": "p", "type": "quantitative", "scale": {"domain": [142.925, 152.405], "nice": false, "zero": false}, "axis": null},
        "text": {"field": "t"}
      }
    }
  ]
}
